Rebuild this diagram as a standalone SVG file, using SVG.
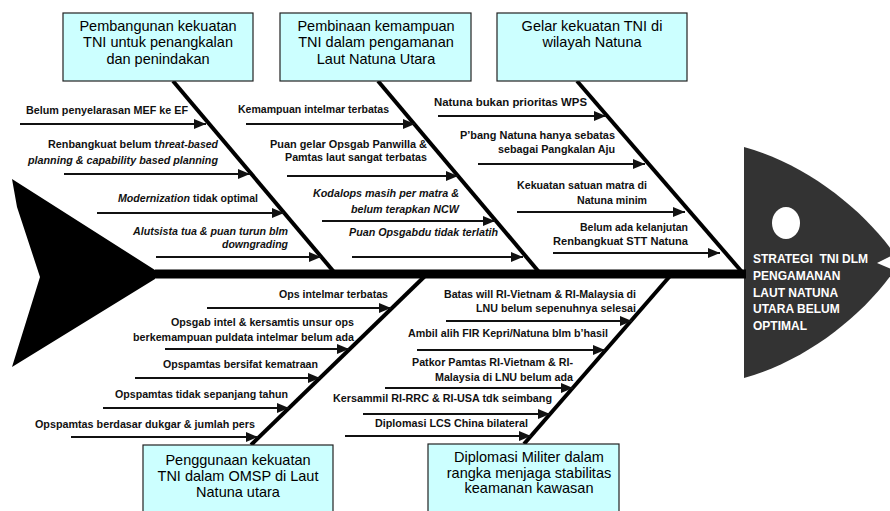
<svg xmlns="http://www.w3.org/2000/svg" width="890" height="511" viewBox="0 0 890 511">
<style>
.box{fill:#ccffff;stroke:#222;stroke-width:1.2}
.bt{font-family:"Liberation Sans",Arial,sans-serif;font-size:14.5px;fill:#000;text-anchor:middle}
.lb{font-family:"Liberation Sans",Arial,sans-serif;font-size:11.5px;font-weight:bold;fill:#111}
.it{font-style:italic}
.bone{stroke:#000;stroke-width:4;fill:none}
.arr{stroke:#111;stroke-width:2;fill:none;marker-end:url(#ah)}
.ht{font-family:"Liberation Sans",Arial,sans-serif;font-size:12px;font-weight:bold;fill:#fff}
</style>
<defs>
<marker id="ah" markerUnits="userSpaceOnUse" markerWidth="12" markerHeight="10" refX="12" refY="5" orient="auto">
<path d="M0,0 L12,5 L0,10 Z" fill="#111"/>
</marker>
</defs>
<rect width="890" height="511" fill="#fff"/>

<g id="tail">
<path d="M12,179 L155,270 L155,279 L12,367 L40,277 L17,207 Z" fill="#000"/>
</g>

<g id="head">
<path d="M744,147 C810,165 870,215 900,262 C870,310 810,360 744,378 Z" fill="#333"/>
<path d="M891,256 L877,263 L891,269 Z" fill="#fff"/>
<ellipse cx="786" cy="223" rx="14" ry="16" fill="#fff"/>
<text class="ht"><tspan x="753" y="263">STRATEGI&#160; TNI DLM</tspan><tspan x="753" y="280">PENGAMANAN</tspan><tspan x="753" y="297">LAUT NATUNA</tspan><tspan x="753" y="313">UTARA BELUM</tspan><tspan x="753" y="330">OPTIMAL</tspan></text>
</g>

<g id="connectors">
<line x1="155" y1="274" x2="746" y2="274" stroke="#000" stroke-width="9"/>
<line class="bone" x1="173" y1="81" x2="334" y2="272"/>
<line class="bone" x1="378" y1="81" x2="539" y2="272"/>
<line class="bone" x1="577" y1="81" x2="742" y2="272"/>
<line class="bone" x1="425" y1="276" x2="251" y2="445"/>
<line class="bone" x1="670" y1="276" x2="524" y2="444"/>
<line class="arr" x1="20" y1="124" x2="206" y2="124"/>
<line class="arr" x1="64" y1="174" x2="250" y2="174"/>
<line class="arr" x1="97" y1="213" x2="284" y2="213"/>
<line class="arr" x1="156" y1="257" x2="321" y2="257"/>
<line class="arr" x1="246" y1="124" x2="415" y2="124"/>
<line class="arr" x1="287" y1="176" x2="458" y2="176"/>
<line class="arr" x1="322" y1="221" x2="495" y2="221"/>
<line class="arr" x1="352" y1="257" x2="523" y2="257"/>
<line class="arr" x1="438" y1="116" x2="606" y2="116"/>
<line class="arr" x1="478" y1="164" x2="645" y2="164"/>
<line class="arr" x1="517" y1="212" x2="685" y2="212"/>
<line class="arr" x1="553" y1="253" x2="720" y2="253"/>
<line class="arr" x1="207" y1="308" x2="391" y2="308"/>
<line class="arr" x1="165" y1="349" x2="349" y2="349"/>
<line class="arr" x1="135" y1="378" x2="320" y2="378"/>
<line class="arr" x1="103" y1="408" x2="289" y2="408"/>
<line class="arr" x1="71" y1="437" x2="258" y2="437"/>
<line class="arr" x1="446" y1="321" x2="632" y2="321"/>
<line class="arr" x1="417" y1="350" x2="605" y2="350"/>
<line class="arr" x1="385" y1="388" x2="573" y2="388"/>
<line class="arr" x1="363" y1="414" x2="550" y2="414"/>
<line class="arr" x1="345" y1="436" x2="531" y2="436"/>
</g>

<g id="cat1">
<rect class="box" x="63" y="13" width="190" height="68"/>
<text class="bt"><tspan x="158" y="31">Pembangunan kekuatan</tspan><tspan x="158" y="47">TNI untuk penangkalan</tspan><tspan x="158" y="64">dan penindakan</tspan></text>
</g>
<g id="cat2">
<rect class="box" x="280" y="13" width="191" height="68"/>
<text class="bt"><tspan x="376" y="31">Pembinaan kemampuan</tspan><tspan x="376" y="47">TNI dalam pengamanan</tspan><tspan x="376" y="64">Laut Natuna Utara</tspan></text>
</g>
<g id="cat3">
<rect class="box" x="497" y="13" width="190" height="68"/>
<text class="bt"><tspan x="592" y="31">Gelar kekuatan TNI di</tspan><tspan x="592" y="47">wilayah Natuna</tspan></text>
</g>
<g id="cat4">
<rect class="box" x="143" y="445" width="190" height="80"/>
<text class="bt"><tspan x="238" y="465">Penggunaan kekuatan</tspan><tspan x="238" y="481">TNI dalam OMSP di Laut</tspan><tspan x="238" y="497">Natuna utara</tspan></text>
</g>
<g id="cat5">
<rect class="box" x="428" y="444" width="191" height="80"/>
<text class="bt"><tspan x="529" y="462">Diplomasi Militer dalam</tspan><tspan x="529" y="478">rangka menjaga stabilitas</tspan><tspan x="529" y="493">keamanan kawasan</tspan></text>
</g>

<g id="c1"><text class="lb" x="26" y="114" textLength="162" lengthAdjust="spacingAndGlyphs">Belum penyelarasan MEF ke EF</text></g>
<g id="c2"><text class="lb" x="48" y="148" textLength="110" lengthAdjust="spacingAndGlyphs">Renbangkuat belum t</text>
<text class="lb it" x="158.5" y="148" textLength="59.5" lengthAdjust="spacingAndGlyphs">hreat-based</text>
<text class="lb it" x="28" y="164" textLength="190" lengthAdjust="spacingAndGlyphs">planning &amp; capability based planning</text></g>
<g id="c3"><text class="lb it" x="118" y="202" textLength="72" lengthAdjust="spacingAndGlyphs">Modernization</text>
<text class="lb" x="193" y="202" textLength="65" lengthAdjust="spacingAndGlyphs">tidak optimal</text></g>
<g id="c4"><text class="lb it" x="133" y="235" textLength="155" lengthAdjust="spacingAndGlyphs">Alutsista tua &amp; puan turun blm</text>
<text class="lb it" x="222" y="248" textLength="66" lengthAdjust="spacingAndGlyphs">downgrading</text></g>

<g id="c5"><text class="lb" x="238" y="113" textLength="151" lengthAdjust="spacingAndGlyphs">Kemampuan intelmar terbatas</text></g>
<g id="c6"><text class="lb" x="270" y="148" textLength="157" lengthAdjust="spacingAndGlyphs">Puan gelar Opsgab Panwilla &amp;</text>
<text class="lb" x="285" y="161" textLength="142" lengthAdjust="spacingAndGlyphs">Pamtas laut sangat terbatas</text></g>
<g id="c7"><text class="lb it" x="313" y="197" textLength="146" lengthAdjust="spacingAndGlyphs">Kodalops masih per matra &amp;</text>
<text class="lb it" x="351" y="213" textLength="108" lengthAdjust="spacingAndGlyphs">belum terapkan NCW</text></g>
<g id="c8"><text class="lb it" x="349" y="236" textLength="149" lengthAdjust="spacingAndGlyphs">Puan Opsgabdu tidak terlatih</text></g>

<g id="c9"><text class="lb" x="434" y="106" textLength="153" lengthAdjust="spacingAndGlyphs">Natuna bukan prioritas WPS</text></g>
<g id="c10"><text class="lb" x="460" y="139" textLength="155" lengthAdjust="spacingAndGlyphs">P’bang Natuna hanya sebatas</text>
<text class="lb" x="498" y="153" textLength="117" lengthAdjust="spacingAndGlyphs">sebagai Pangkalan Aju</text></g>
<g id="c11"><text class="lb" x="517" y="189" textLength="130" lengthAdjust="spacingAndGlyphs">Kekuatan satuan matra di</text>
<text class="lb" x="577" y="204" textLength="70" lengthAdjust="spacingAndGlyphs">Natuna minim</text></g>
<g id="c12"><text class="lb" x="580" y="231" textLength="108" lengthAdjust="spacingAndGlyphs">Belum ada kelanjutan</text>
<text class="lb" x="553" y="245" textLength="135" lengthAdjust="spacingAndGlyphs">Renbangkuat STT Natuna</text></g>

<g id="c13"><text class="lb" x="279" y="298" textLength="109" lengthAdjust="spacingAndGlyphs">Ops intelmar terbatas</text></g>
<g id="c14"><text class="lb" x="171" y="326" textLength="183" lengthAdjust="spacingAndGlyphs">Opsgab intel &amp; kersamtis unsur ops</text>
<text class="lb" x="133" y="341" textLength="221" lengthAdjust="spacingAndGlyphs">berkemampuan puldata intelmar belum ada</text></g>
<g id="c15"><text class="lb" x="163" y="368" textLength="155" lengthAdjust="spacingAndGlyphs">Opspamtas bersifat kematraan</text></g>
<g id="c16"><text class="lb" x="115" y="398" textLength="173" lengthAdjust="spacingAndGlyphs">Opspamtas tidak sepanjang tahun</text></g>
<g id="c17"><text class="lb" x="35" y="428" textLength="220" lengthAdjust="spacingAndGlyphs">Opspamtas berdasar dukgar &amp; jumlah pers</text></g>

<g id="c18"><text class="lb" x="444" y="298" textLength="192" lengthAdjust="spacingAndGlyphs">Batas will RI-Vietnam &amp; RI-Malaysia di</text>
<text class="lb" x="476" y="312" textLength="160" lengthAdjust="spacingAndGlyphs">LNU belum sepenuhnya selesai</text></g>
<g id="c19"><text class="lb" x="408" y="337" textLength="200" lengthAdjust="spacingAndGlyphs">Ambil alih FIR Kepri/Natuna blm b’hasil</text></g>
<g id="c20"><text class="lb" x="412" y="366" textLength="161" lengthAdjust="spacingAndGlyphs">Patkor Pamtas RI-Vietnam &amp; RI-</text>
<text class="lb" x="435" y="381" textLength="138" lengthAdjust="spacingAndGlyphs">Malaysia di LNU belum ada</text></g>
<g id="c21"><text class="lb" x="333" y="402" textLength="219" lengthAdjust="spacingAndGlyphs">Kersammil RI-RRC &amp; RI-USA tdk seimbang</text></g>
<g id="c22"><text class="lb" x="375" y="427" textLength="153" lengthAdjust="spacingAndGlyphs">Diplomasi LCS China bilateral</text></g>
</svg>
